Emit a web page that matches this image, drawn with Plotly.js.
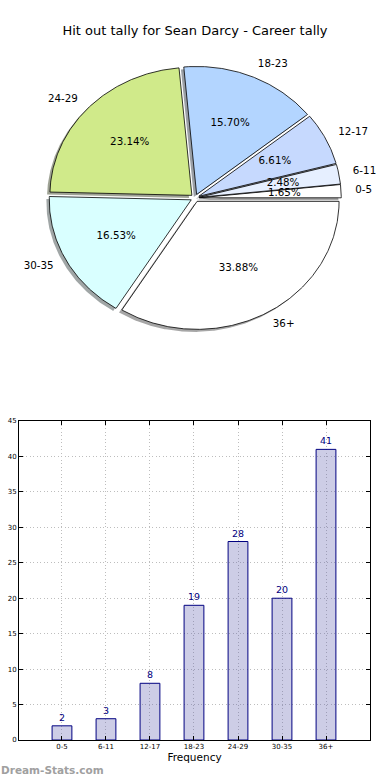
<!DOCTYPE html>
<html><head><meta charset="utf-8">
<script src="https://cdn.plot.ly/plotly-3.0.1.min.js"></script>
<style>html,body{margin:0;padding:0;background:#fff}#chart{width:390px;height:780px}</style>
</head><body><div id="chart"></div>
<script>
// ---- data ----
const categories = ['0-5', '6-11', '12-17', '18-23', '24-29', '30-35', '36+'];
const tallies = [2, 3, 8, 19, 28, 20, 41];
const yTickValues = [0, 5, 10, 15, 20, 25, 30, 35, 40, 45];
const chartTitle = 'Hit out tally for Sean Darcy - Career tally';
const xAxisLabel = 'Frequency';
const watermark = 'Dream-Stats.com';

// ---- styles ----
const sliceColors = ['#ffffff', '#e6efff', '#c6d9fe', '#b3d5ff', '#d0ea8a', '#d9ffff', '#ffffff'];
const EXPLODE = 0.03, LABEL_R = 1.1, PCT_R = 0.6, SHADOW = 0.02;
const FONT = 'DejaVu Sans, Verdana, sans-serif';

function shadowColor(hex) {
  const r = parseInt(hex.slice(1, 3), 16), g = parseInt(hex.slice(3, 5), 16), b = parseInt(hex.slice(5, 7), 16);
  return 'rgba(' + Math.round(r * 0.3) + ',' + Math.round(g * 0.3) + ',' + Math.round(b * 0.3) + ',0.5)';
}

const total = tallies.reduce((a, b) => a + b, 0);
const shadows = [], wedges = [];
const lx = [], ly = [], lt = [], lp = [], px = [], py = [], pt = [];
let cum = 0;
tallies.forEach((v, i) => {
  const t1 = cum / total * 360, t2 = (cum + v) / total * 360;
  cum += v;
  const mid = (t1 + t2) / 2 * Math.PI / 180;
  const ox = EXPLODE * Math.cos(mid), oy = EXPLODE * Math.sin(mid);
  const xs = [ox], ys = [oy];
  const n = Math.max(2, Math.ceil((t2 - t1) / 0.5));
  for (let k = 0; k <= n; k++) {
    const a = (t1 + (t2 - t1) * k / n) * Math.PI / 180;
    xs.push(ox + Math.cos(a));
    ys.push(oy + Math.sin(a));
  }
  xs.push(ox); ys.push(oy);
  shadows.push({
    type: 'scatter', mode: 'lines', x: xs.map(x => x - SHADOW), y: ys.map(y => y - SHADOW),
    fill: 'toself', fillcolor: shadowColor(sliceColors[i]), line: {width: 0},
    hoverinfo: 'skip', xaxis: 'x', yaxis: 'y', showlegend: false
  });
  wedges.push({
    type: 'scatter', mode: 'lines', x: xs, y: ys, fill: 'toself', fillcolor: sliceColors[i],
    line: {color: '#000000', width: 0.8}, name: categories[i],
    hoverinfo: 'skip', xaxis: 'x', yaxis: 'y', showlegend: false
  });
  const lxv = ox + LABEL_R * Math.cos(mid);
  lx.push(lxv); ly.push(oy + LABEL_R * Math.sin(mid)); lt.push(categories[i]);
  lp.push(lxv > 0 ? 'middle right' : 'middle left');
  px.push(ox + PCT_R * Math.cos(mid)); py.push(oy + PCT_R * Math.sin(mid));
  pt.push((v / total * 100).toFixed(2) + '%');
});

const labelTrace = {
  type: 'scatter', mode: 'text', x: lx, y: ly, text: lt, textposition: lp,
  textfont: {family: FONT, size: 10.3, color: '#000'}, hoverinfo: 'skip',
  xaxis: 'x', yaxis: 'y', showlegend: false, cliponaxis: false
};
const pctTrace = {
  type: 'scatter', mode: 'text', x: px, y: py, text: pt, textposition: 'middle center',
  textfont: {family: FONT, size: 10.3, color: '#000'}, hoverinfo: 'skip',
  xaxis: 'x', yaxis: 'y', showlegend: false, cliponaxis: false
};

const barTrace = {
  type: 'bar', x: categories, y: tallies, xaxis: 'x2', yaxis: 'y2', width: 0.45,
  marker: {color: 'rgba(88,88,172,0.3)', line: {color: '#000080', width: 1}},
  text: tallies.map(String), textposition: 'outside', cliponaxis: false,
  textfont: {family: FONT, size: 9.5, color: '#000080'}, hoverinfo: 'skip', showlegend: false
};

// pie geometry: centre (195,198) px, radii 142 x 128 px
const W = 390, H = 780;
const gridStyle = {showgrid: true, gridcolor: '#bdbdbd', griddash: '1px,2.5px', gridwidth: 1, zeroline: false};
const layout = {
  width: W, height: H, margin: {l: 0, r: 0, t: 0, b: 0, pad: 0},
  paper_bgcolor: '#ffffff', plot_bgcolor: 'rgba(0,0,0,0)', showlegend: false,
  font: {family: FONT, color: '#000'},
  title: {text: chartTitle, font: {family: FONT, size: 13, color: '#000'},
    x: 0.5, xanchor: 'center', xref: 'paper', y: 1 - 30 / H, yanchor: 'middle'},
  xaxis: {domain: [0, 1], range: [-195 / 142, 195 / 142], visible: false, fixedrange: true},
  yaxis: {domain: [0.5, 1], anchor: 'x', range: [-(390 - 198) / 128, 198 / 128], visible: false, fixedrange: true},
  xaxis2: Object.assign({
    domain: [19 / W, 370 / W], anchor: 'y2', type: 'category', range: [-0.977, 7.0],
    showline: true, linecolor: '#000', linewidth: 1, mirror: 'allticks',
    ticks: 'inside', ticklen: 4, tickcolor: '#000', tickwidth: 1,
    tickfont: {family: FONT, size: 7, color: '#000'},
    title: {text: xAxisLabel, font: {family: FONT, size: 10.5, color: '#000'}, standoff: 3},
    fixedrange: true
  }, gridStyle),
  yaxis2: Object.assign({
    domain: [1 - 740 / H, 1 - 421 / H], anchor: 'x2', range: [0, 45], tickvals: yTickValues,
    ticktext: yTickValues.map(String),
    showline: true, linecolor: '#000', linewidth: 1, mirror: 'allticks',
    ticks: 'inside', ticklen: 4, tickcolor: '#000', tickwidth: 1,
    tickfont: {family: FONT, size: 7, color: '#000'}, fixedrange: true
  }, gridStyle),
  annotations: [{
    text: watermark, xref: 'paper', yref: 'paper', x: 0, y: 1 - 770 / H,
    xanchor: 'left', yanchor: 'middle', showarrow: false, xshift: -1,
    font: {family: FONT, size: 10.5, color: '#a0a0a0', weight: 'bold'}
  }]
};

Plotly.newPlot('chart', [...shadows, ...wedges, pctTrace, labelTrace, barTrace], layout,
  {displayModeBar: false, staticPlot: true});
</script>
</body></html>
